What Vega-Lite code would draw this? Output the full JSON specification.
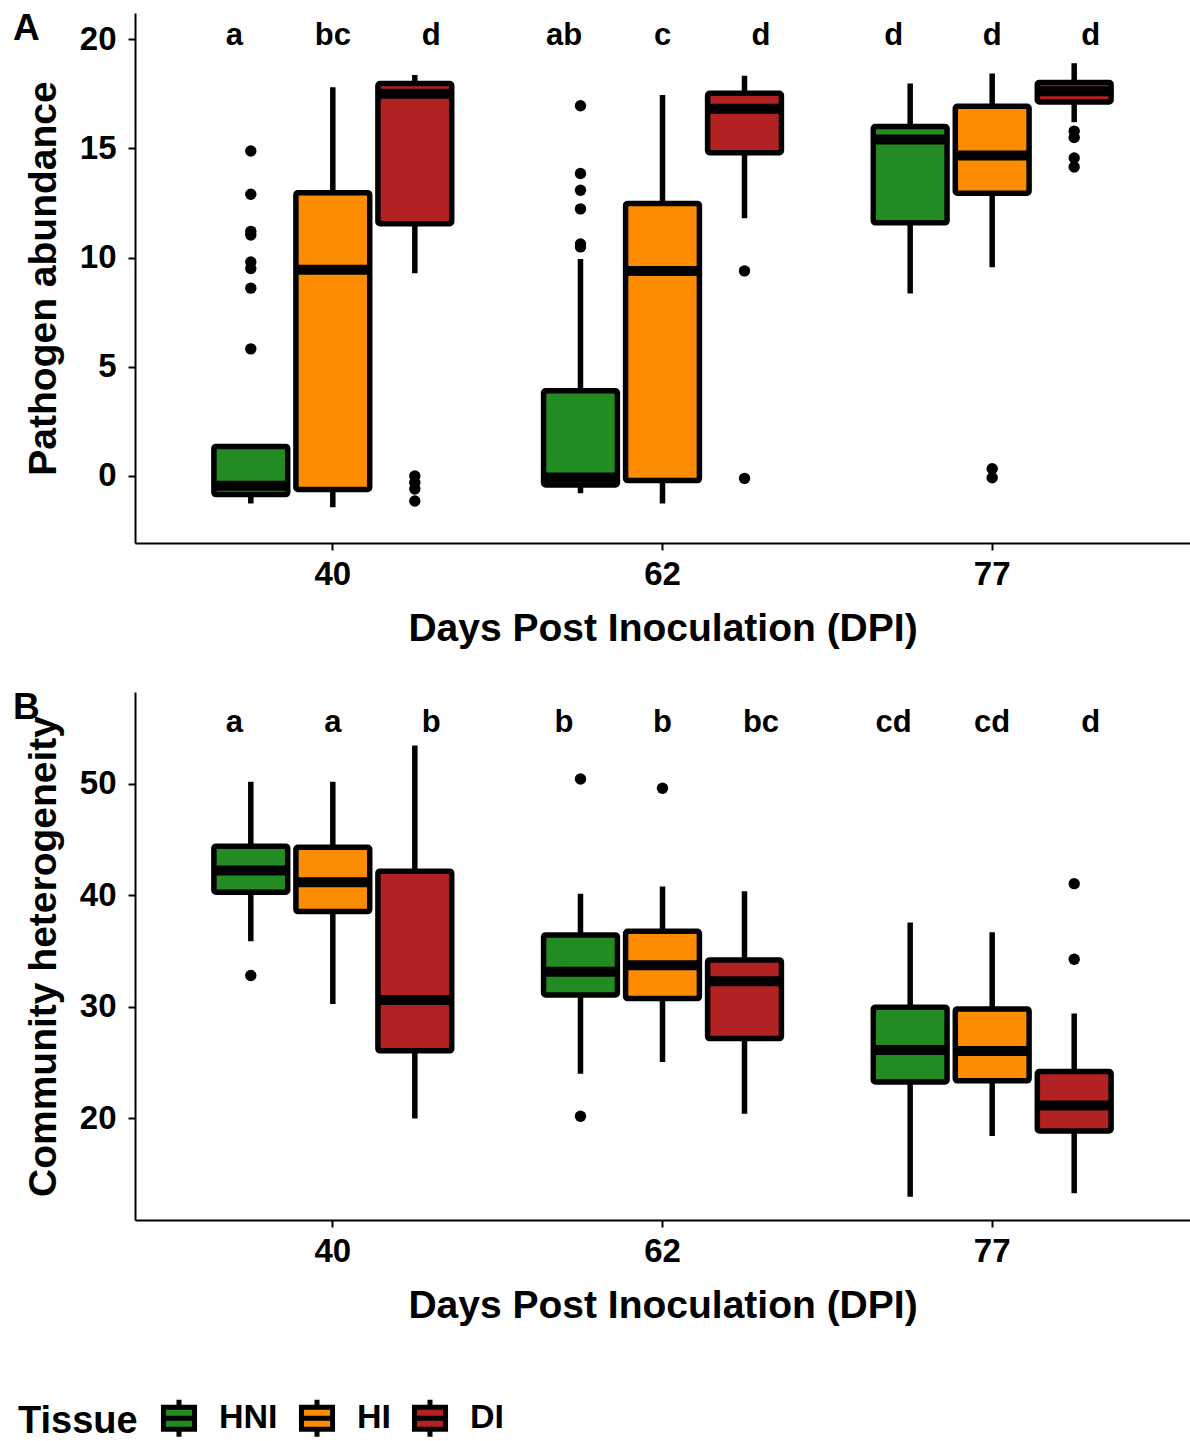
{
  "$schema": "https://vega.github.io/schema/vega-lite/v6.json",
  "background": "white",
  "padding": {"left": 13, "top": 10, "right": 0, "bottom": 0},
  "config": {
    "font": "Liberation Sans",
    "view": {"stroke": null},
    "axis": {
      "grid": false,
      "domainColor": "black", "domainWidth": 2,
      "tickColor": "black", "tickWidth": 2, "tickSize": 7,
      "labelFont": "Liberation Sans", "labelFontWeight": "bold", "labelFontSize": 33, "labelColor": "black",
      "titleFont": "Liberation Sans", "titleFontWeight": "bold", "titleFontSize": 39, "titleColor": "black"
    },
    "axisX": {"labelPadding": 8, "titlePadding": 18, "labelAngle": 0},
    "axisY": {"labelPadding": 12, "titlePadding": 16},
    "legend": {
      "orient": "none", "legendX": -117, "legendY": 1384,
      "direction": "horizontal", "titleOrient": "left",
      "titleFont": "Liberation Sans", "titleFontSize": 38, "titleFontWeight": "bold", "titleColor": "black", "titlePadding": 20,
      "labelFont": "Liberation Sans", "labelFontSize": 34, "labelFontWeight": "bold", "labelColor": "black", "labelOffset": 19,
      "symbolType": "M-0.84,-0.59H0.84V0.59H-0.84Z M0,-0.59V-1 M0,0.59V1 M-0.84,0H0.84",
      "symbolSize": 1369, "symbolStrokeColor": "black", "symbolStrokeWidth": 5, "symbolOpacity": 1,
      "columnPadding": 13
    },
    "title": {"font": "Liberation Sans", "fontSize": 37, "fontWeight": "bold", "color": "black", "anchor": "start", "frame": "group", "dx": -122, "dy": 39, "offset": 0, "baseline": "alphabetic"}
  },
  "datasets": {
    "boxes": [
      {"panel": "A", "DPI": "40", "Tissue": "HNI", "lower": -1.26, "q1": -0.85, "median": -0.45, "q3": 1.35, "upper": 1.35},
      {"panel": "A", "DPI": "40", "Tissue": "HI", "lower": -1.43, "q1": -0.62, "median": 9.44, "q3": 12.97, "upper": 17.8},
      {"panel": "A", "DPI": "40", "Tissue": "DI", "lower": 9.28, "q1": 11.55, "median": 17.5, "q3": 17.97, "upper": 18.36},
      {"panel": "A", "DPI": "62", "Tissue": "HNI", "lower": -0.79, "q1": -0.41, "median": -0.07, "q3": 3.9, "upper": 9.93},
      {"panel": "A", "DPI": "62", "Tissue": "HI", "lower": -1.26, "q1": -0.21, "median": 9.39, "q3": 12.48, "upper": 17.44},
      {"panel": "A", "DPI": "62", "Tissue": "DI", "lower": 11.8, "q1": 14.8, "median": 16.82, "q3": 17.52, "upper": 18.33},
      {"panel": "A", "DPI": "77", "Tissue": "HNI", "lower": 8.36, "q1": 11.59, "median": 15.41, "q3": 16.0, "upper": 17.97},
      {"panel": "A", "DPI": "77", "Tissue": "HI", "lower": 9.56, "q1": 12.95, "median": 14.67, "q3": 16.93, "upper": 18.43},
      {"panel": "A", "DPI": "77", "Tissue": "DI", "lower": 16.2, "q1": 17.13, "median": 17.62, "q3": 18.02, "upper": 18.9},
      {"panel": "B", "DPI": "40", "Tissue": "HNI", "lower": 35.87, "q1": 40.26, "median": 42.2, "q3": 44.39, "upper": 50.16},
      {"panel": "B", "DPI": "40", "Tissue": "HI", "lower": 30.26, "q1": 38.53, "median": 41.15, "q3": 44.29, "upper": 50.16},
      {"panel": "B", "DPI": "40", "Tissue": "DI", "lower": 20.0, "q1": 26.06, "median": 30.6, "q3": 42.15, "upper": 53.4},
      {"panel": "B", "DPI": "62", "Tissue": "HNI", "lower": 24.0, "q1": 31.06, "median": 33.14, "q3": 36.44, "upper": 40.13},
      {"panel": "B", "DPI": "62", "Tissue": "HI", "lower": 25.06, "q1": 30.74, "median": 33.72, "q3": 36.76, "upper": 40.77},
      {"panel": "B", "DPI": "62", "Tissue": "DI", "lower": 20.42, "q1": 27.15, "median": 32.28, "q3": 34.2, "upper": 40.35},
      {"panel": "B", "DPI": "77", "Tissue": "HNI", "lower": 12.98, "q1": 23.27, "median": 26.12, "q3": 29.97, "upper": 37.56},
      {"panel": "B", "DPI": "77", "Tissue": "HI", "lower": 18.43, "q1": 23.37, "median": 26.03, "q3": 29.81, "upper": 36.67},
      {"panel": "B", "DPI": "77", "Tissue": "DI", "lower": 13.3, "q1": 18.88, "median": 21.15, "q3": 24.2, "upper": 29.39}
    ],
    "outliers": [
      {"panel": "A", "DPI": "40", "Tissue": "HNI", "value": 14.88},
      {"panel": "A", "DPI": "40", "Tissue": "HNI", "value": 12.9},
      {"panel": "A", "DPI": "40", "Tissue": "HNI", "value": 11.2},
      {"panel": "A", "DPI": "40", "Tissue": "HNI", "value": 11.03},
      {"panel": "A", "DPI": "40", "Tissue": "HNI", "value": 9.8},
      {"panel": "A", "DPI": "40", "Tissue": "HNI", "value": 9.5},
      {"panel": "A", "DPI": "40", "Tissue": "HNI", "value": 8.6},
      {"panel": "A", "DPI": "40", "Tissue": "HNI", "value": 5.82},
      {"panel": "A", "DPI": "40", "Tissue": "DI", "value": 0.0},
      {"panel": "A", "DPI": "40", "Tissue": "DI", "value": -0.3},
      {"panel": "A", "DPI": "40", "Tissue": "DI", "value": -0.6},
      {"panel": "A", "DPI": "40", "Tissue": "DI", "value": -1.15},
      {"panel": "A", "DPI": "62", "Tissue": "HNI", "value": 16.95},
      {"panel": "A", "DPI": "62", "Tissue": "HNI", "value": 13.85},
      {"panel": "A", "DPI": "62", "Tissue": "HNI", "value": 13.08},
      {"panel": "A", "DPI": "62", "Tissue": "HNI", "value": 12.23},
      {"panel": "A", "DPI": "62", "Tissue": "HNI", "value": 10.62},
      {"panel": "A", "DPI": "62", "Tissue": "HNI", "value": 10.49},
      {"panel": "A", "DPI": "62", "Tissue": "DI", "value": 9.39},
      {"panel": "A", "DPI": "62", "Tissue": "DI", "value": -0.11},
      {"panel": "A", "DPI": "77", "Tissue": "HI", "value": 0.33},
      {"panel": "A", "DPI": "77", "Tissue": "HI", "value": -0.08},
      {"panel": "A", "DPI": "77", "Tissue": "DI", "value": 15.79},
      {"panel": "A", "DPI": "77", "Tissue": "DI", "value": 15.5},
      {"panel": "A", "DPI": "77", "Tissue": "DI", "value": 14.56},
      {"panel": "A", "DPI": "77", "Tissue": "DI", "value": 14.15},
      {"panel": "B", "DPI": "40", "Tissue": "HNI", "value": 32.8},
      {"panel": "B", "DPI": "62", "Tissue": "HNI", "value": 50.4},
      {"panel": "B", "DPI": "62", "Tissue": "HNI", "value": 20.2},
      {"panel": "B", "DPI": "62", "Tissue": "HI", "value": 49.58},
      {"panel": "B", "DPI": "77", "Tissue": "DI", "value": 41.03},
      {"panel": "B", "DPI": "77", "Tissue": "DI", "value": 34.26}
    ],
    "letters": [
      {"panel": "A", "DPI": "40", "Tissue": "HNI", "letter": "a"},
      {"panel": "A", "DPI": "40", "Tissue": "HI", "letter": "bc"},
      {"panel": "A", "DPI": "40", "Tissue": "DI", "letter": "d"},
      {"panel": "A", "DPI": "62", "Tissue": "HNI", "letter": "ab"},
      {"panel": "A", "DPI": "62", "Tissue": "HI", "letter": "c"},
      {"panel": "A", "DPI": "62", "Tissue": "DI", "letter": "d"},
      {"panel": "A", "DPI": "77", "Tissue": "HNI", "letter": "d"},
      {"panel": "A", "DPI": "77", "Tissue": "HI", "letter": "d"},
      {"panel": "A", "DPI": "77", "Tissue": "DI", "letter": "d"},
      {"panel": "B", "DPI": "40", "Tissue": "HNI", "letter": "a"},
      {"panel": "B", "DPI": "40", "Tissue": "HI", "letter": "a"},
      {"panel": "B", "DPI": "40", "Tissue": "DI", "letter": "b"},
      {"panel": "B", "DPI": "62", "Tissue": "HNI", "letter": "b"},
      {"panel": "B", "DPI": "62", "Tissue": "HI", "letter": "b"},
      {"panel": "B", "DPI": "62", "Tissue": "DI", "letter": "bc"},
      {"panel": "B", "DPI": "77", "Tissue": "HNI", "letter": "cd"},
      {"panel": "B", "DPI": "77", "Tissue": "HI", "letter": "cd"},
      {"panel": "B", "DPI": "77", "Tissue": "DI", "letter": "d"}
    ]
  },
  "spacing": 41,
  "resolve": {"scale": {"color": "shared"}},
  "vconcat": [
    {
      "title": {"text": "A"},
      "width": 1055,
      "height": 530,
      "encoding": {
        "x": {"field": "DPI", "type": "nominal", "title": "Days Post Inoculation (DPI)",
              "scale": {"type": "band", "paddingInner": 0, "paddingOuter": 0.1}}
      },
      "resolve": {"scale": {"xOffset": "independent"}},
      "layer": [
        {
          "data": {"name": "boxes"},
          "transform": [{"filter": "datum.panel === 'A'"}],
          "encoding": {
            "xOffset": {"field": "Tissue", "type": "nominal", "scale": {"type": "band", "domain": ["HNI", "HI", "DI"], "paddingInner": 0.1, "paddingOuter": 0.56}}
          },
          "layer": [
            {"mark": {"type": "rule", "color": "black", "strokeWidth": 5.5, "opacity": 1},
             "encoding": {
               "y": {"field": "lower", "type": "quantitative", "title": "Pathogen abundance",
                     "scale": {"domain": [-3.07, 21.2], "nice": false, "zero": false},
                     "axis": {"values": [0, 5, 10, 15, 20]}},
               "y2": {"field": "upper"}
             }},
            {"mark": {"type": "bar", "stroke": "black", "strokeWidth": 5.5, "cornerRadius": 2, "opacity": 1, "strokeJoin": "round"},
             "encoding": {
               "y": {"field": "q1", "type": "quantitative", "title": "Pathogen abundance"},
               "y2": {"field": "q3"},
               "color": {"field": "Tissue", "type": "nominal", "title": "Tissue",
                         "scale": {"domain": ["HNI", "HI", "DI"], "range": ["#228B22", "#FF8C00", "#B22222"]}}
             }},
            {"mark": {"type": "tick", "color": "black", "thickness": 10, "size": 74, "orient": "horizontal", "opacity": 1},
             "encoding": {
               "y": {"field": "median", "type": "quantitative", "title": "Pathogen abundance"}
             }}
          ]
        },
        {
          "data": {"name": "outliers"},
          "transform": [{"filter": "datum.panel === 'A'"}],
          "mark": {"type": "circle", "color": "black", "size": 130, "opacity": 1},
          "encoding": {
            "xOffset": {"field": "Tissue", "type": "nominal", "scale": {"type": "band", "domain": ["HNI", "HI", "DI"], "paddingInner": 0.1, "paddingOuter": 0.56}},
            "y": {"field": "value", "type": "quantitative", "title": "Pathogen abundance"}
          }
        },
        {
          "data": {"name": "letters"},
          "transform": [{"filter": "datum.panel === 'A'"}],
          "mark": {"type": "text", "fontSize": 31, "fontWeight": "bold", "color": "black", "baseline": "alphabetic", "align": "center"},
          "encoding": {
            "xOffset": {"field": "Tissue", "type": "nominal", "scale": {"type": "point", "domain": ["HNI", "HI", "DI"], "padding": 0.674}},
            "y": {"datum": 19.72, "type": "quantitative"},
            "text": {"field": "letter"}
          }
        }
      ]
    },
    {
      "title": {"text": "B"},
      "width": 1055,
      "height": 528,
      "encoding": {
        "x": {"field": "DPI", "type": "nominal", "title": "Days Post Inoculation (DPI)",
              "scale": {"type": "band", "paddingInner": 0, "paddingOuter": 0.1}}
      },
      "resolve": {"scale": {"xOffset": "independent"}},
      "layer": [
        {
          "data": {"name": "boxes"},
          "transform": [{"filter": "datum.panel === 'B'"}],
          "encoding": {
            "xOffset": {"field": "Tissue", "type": "nominal", "scale": {"type": "band", "domain": ["HNI", "HI", "DI"], "paddingInner": 0.1, "paddingOuter": 0.56}}
          },
          "layer": [
            {"mark": {"type": "rule", "color": "black", "strokeWidth": 5.5, "opacity": 1},
             "encoding": {
               "y": {"field": "lower", "type": "quantitative", "title": "Community heterogeneity",
                     "scale": {"domain": [10.9, 58.2], "nice": false, "zero": false},
                     "axis": {"values": [20, 30, 40, 50]}},
               "y2": {"field": "upper"}
             }},
            {"mark": {"type": "bar", "stroke": "black", "strokeWidth": 5.5, "cornerRadius": 2, "opacity": 1, "strokeJoin": "round"},
             "encoding": {
               "y": {"field": "q1", "type": "quantitative", "title": "Community heterogeneity"},
               "y2": {"field": "q3"},
               "color": {"field": "Tissue", "type": "nominal", "title": "Tissue",
                         "scale": {"domain": ["HNI", "HI", "DI"], "range": ["#228B22", "#FF8C00", "#B22222"]}}
             }},
            {"mark": {"type": "tick", "color": "black", "thickness": 10, "size": 74, "orient": "horizontal", "opacity": 1},
             "encoding": {
               "y": {"field": "median", "type": "quantitative", "title": "Community heterogeneity"}
             }}
          ]
        },
        {
          "data": {"name": "outliers"},
          "transform": [{"filter": "datum.panel === 'B'"}],
          "mark": {"type": "circle", "color": "black", "size": 130, "opacity": 1},
          "encoding": {
            "xOffset": {"field": "Tissue", "type": "nominal", "scale": {"type": "band", "domain": ["HNI", "HI", "DI"], "paddingInner": 0.1, "paddingOuter": 0.56}},
            "y": {"field": "value", "type": "quantitative", "title": "Community heterogeneity"}
          }
        },
        {
          "data": {"name": "letters"},
          "transform": [{"filter": "datum.panel === 'B'"}],
          "mark": {"type": "text", "fontSize": 31, "fontWeight": "bold", "color": "black", "baseline": "alphabetic", "align": "center"},
          "encoding": {
            "xOffset": {"field": "Tissue", "type": "nominal", "scale": {"type": "point", "domain": ["HNI", "HI", "DI"], "padding": 0.674}},
            "y": {"datum": 54.6, "type": "quantitative"},
            "text": {"field": "letter"}
          }
        }
      ]
    }
  ]
}
